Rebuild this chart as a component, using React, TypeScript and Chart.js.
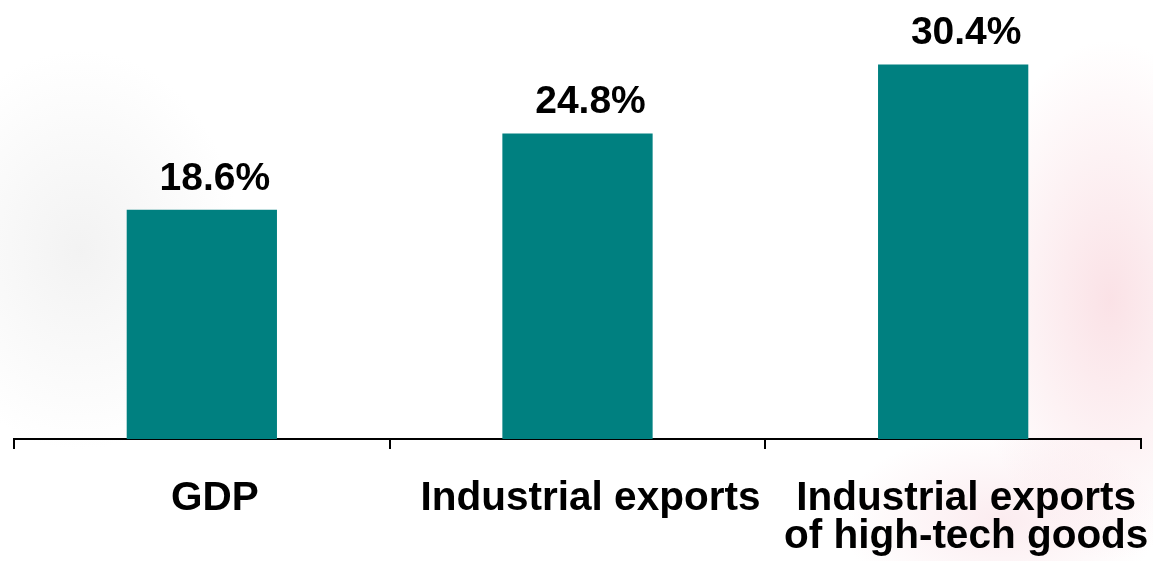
import React, { useEffect, useRef } from "react";
import { Chart, registerables } from "chart.js";

Chart.register(...registerables);

const categories: (string | string[])[] = [
  "GDP",
  "Industrial exports",
  ["Industrial exports", "of high-tech goods"],
];
const values: number[] = [18.6, 24.8, 30.4];
const valueLabels: string[] = ["18.6%", "24.8%", "30.4%"];

const FONT = "'Liberation Sans', Arial, Helvetica, sans-serif";

const valueLabelPlugin = {
  id: "valueLabels",
  afterDatasetsDraw(chart: any) {
    const ctx = chart.ctx;
    const meta = chart.getDatasetMeta(0);
    ctx.save();
    ctx.font = `bold 39px ${FONT}`;
    ctx.fillStyle = "#000000";
    ctx.textAlign = "center";
    ctx.textBaseline = "alphabetic";
    meta.data.forEach((bar: any, i: number) => {
      ctx.fillText(valueLabels[i], bar.x + 13, bar.y - 20);
    });
    ctx.restore();
  },
};

export default function App() {
  const canvasRef = useRef<HTMLCanvasElement | null>(null);

  useEffect(() => {
    if (!canvasRef.current) return;
    const chart = new Chart(canvasRef.current, {
      type: "bar",
      data: {
        labels: categories,
        datasets: [
          {
            data: values,
            backgroundColor: "#008080",
            borderWidth: 0,
            barPercentage: 0.4,
            categoryPercentage: 1,
          },
        ],
      },
      options: {
        responsive: true,
        maintainAspectRatio: false,
        animation: false,
        layout: { padding: { left: 14, right: 12, top: 9, bottom: 0 } },
        plugins: {
          legend: { display: false },
          tooltip: { enabled: false },
        },
        scales: {
          x: {
            offset: true,
            grid: {
              offset: true,
              drawOnChartArea: false,
              drawTicks: true,
              tickLength: 10,
              color: "#000000",
              lineWidth: 2,
            },
            border: { display: true, color: "#000000", width: 2 },
            ticks: {
              color: "#000000",
              font: { family: FONT, size: 40.5, weight: "bold", lineHeight: 0.93 },
              padding: 31,
              labelOffset: 13,
              maxRotation: 0,
              autoSkip: false,
            },
            afterFit: (scale: any) => {
              scale.height = 122;
              scale.paddingLeft = 0;
              scale.paddingRight = 0;
            },
          },
          y: {
            display: false,
            min: 0,
            max: 34.9,
          },
        },
      },
      plugins: [valueLabelPlugin],
    });
    return () => chart.destroy();
  }, []);

  return (
    <div
      style={{
        position: "fixed",
        left: 0,
        top: 0,
        width: 1153,
        height: 561,
        background:
          "radial-gradient(ellipse 140px 260px at 1110px 300px, rgba(245,190,200,0.45), rgba(255,255,255,0) 100%)," +
          "radial-gradient(ellipse 160px 90px at 1000px 520px, rgba(245,200,210,0.35), rgba(255,255,255,0) 100%)," +
          "radial-gradient(ellipse 160px 200px at 80px 250px, rgba(230,230,230,0.5), rgba(255,255,255,0) 100%)," +
          "#ffffff",
      }}
    >
      <canvas ref={canvasRef} />
    </div>
  );
}
